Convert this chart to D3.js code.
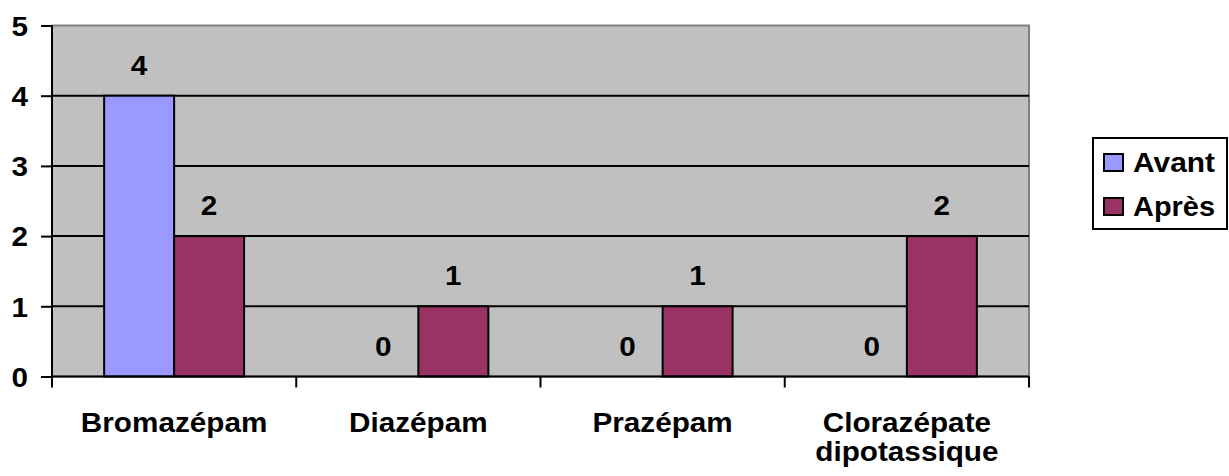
<!DOCTYPE html>
<html lang="fr">
<head>
<meta charset="UTF-8" />
<title>Avant / Après</title>
<style>
  body { margin: 0; background: #fff; }
  svg text { font-family: "Liberation Sans", Arial, sans-serif; font-weight: bold; fill: #000; }
</style>
<script src="https://d3js.org/d3.v7.min.js"></script>
</head>
<body>
<svg id="chart"></svg>
<script>
  const categories = [["Bromazépam"], ["Diazépam"], ["Prazépam"], ["Clorazépate", "dipotassique"]];
  const series = ["Avant", "Après"];
  const avant = [4, 0, 0, 0];
  const apres = [2, 1, 1, 2];
  const yTicks = [0, 1, 2, 3, 4, 5];
  const colors = ["#9999ff", "#993366"];

  const width = 1229, height = 476;
  const plotLeft = 52, plotRight = 1029, plotTop = 25.5, plotBottom = 376.5;
  const fs = 27;
  const stretch = 1.1; // the original text is a little wider than Arial

  const svg = d3.select("#chart").attr("width", width).attr("height", height);

  const x = d3.scaleBand().domain(d3.range(categories.length)).range([plotLeft, plotRight]);
  const xs = d3.scaleBand().domain(series).range([0, x.bandwidth()]).paddingOuter(0.745);
  const y = d3.scaleLinear().domain([0, 5]).range([plotBottom, plotTop]);

  // plot area
  svg.append("rect")
    .attr("x", plotLeft).attr("y", plotTop)
    .attr("width", plotRight - plotLeft).attr("height", plotBottom - plotTop)
    .attr("fill", "#c0c0c0").attr("stroke", "#808080").attr("stroke-width", 2);

  // gridlines
  svg.append("g").selectAll("line")
    .data(yTicks.filter(d => d > 0 && d < 5))
    .join("line")
    .attr("x1", plotLeft).attr("x2", plotRight)
    .attr("y1", d => y(d)).attr("y2", d => y(d))
    .attr("stroke", "#000").attr("stroke-width", 2);

  const data = [];
  categories.forEach((c, i) => {
    data.push({ i, s: "Avant", v: avant[i] });
    data.push({ i, s: "Après", v: apres[i] });
  });

  svg.append("g").selectAll("rect")
    .data(data.filter(d => d.v > 0))
    .join("rect")
    .attr("x", d => x(d.i) + xs(d.s))
    .attr("y", d => y(d.v))
    .attr("width", xs.bandwidth())
    .attr("height", d => y(0) - y(d.v))
    .attr("fill", d => colors[series.indexOf(d.s)])
    .attr("stroke", "#000").attr("stroke-width", 2);

  svg.append("g").selectAll("text")
    .data(data)
    .join("text")
    .attr("x", d => x(d.i) + xs(d.s) + xs.bandwidth() / 2)
    .attr("y", d => y(d.v) - 21)
    .attr("text-anchor", "middle")
    .attr("font-size", fs)
    .text(d => d.v);

  // y axis
  const yAxis = svg.append("g").attr("transform", `translate(${plotLeft},0)`)
    .call(d3.axisLeft(y).tickValues(yTicks).tickSize(11).tickFormat(d3.format("d")));
  yAxis.attr("font-family", null);
  yAxis.select(".domain").attr("stroke", "#000").attr("stroke-width", 2).attr("d", `M0,${plotTop}V${plotBottom}`);
  yAxis.selectAll(".tick line").attr("stroke", "#000").attr("stroke-width", 2);
  yAxis.selectAll(".tick text")
    .attr("font-size", fs)
    .attr("dy", "0.36em").attr("x", -24);

  // x axis
  const xAxis = svg.append("g").attr("transform", `translate(0,${plotBottom})`);
  xAxis.append("line").attr("x1", plotLeft).attr("x2", plotRight).attr("stroke", "#000").attr("stroke-width", 2);
  xAxis.selectAll(".xt")
    .data(d3.range(categories.length + 1))
    .join("line")
    .attr("x1", d => plotLeft + d * x.bandwidth()).attr("x2", d => plotLeft + d * x.bandwidth())
    .attr("y1", 0).attr("y2", 11)
    .attr("stroke", "#000").attr("stroke-width", 2);

  // one text element per line so each can be stretched on its own
  categories.forEach((lines, i) => {
    lines.forEach((line, j) => {
      xAxis.append("text")
        .attr("text-anchor", "middle")
        .attr("font-size", fs)
        .attr("x", x(i) + x.bandwidth() / 2)
        .attr("y", 55 + j * 29)
        .text(line);
    });
  });

  // widen every label slightly
  svg.selectAll("text").each(function () {
    const w = this.getComputedTextLength();
    d3.select(this).attr("textLength", w * stretch).attr("lengthAdjust", "spacingAndGlyphs");
  });

  // legend
  const lg = svg.append("g");
  lg.append("rect").attr("x", 1093).attr("y", 138).attr("width", 134).attr("height", 91)
    .attr("fill", "#fff").attr("stroke", "#000").attr("stroke-width", 2);
  series.forEach((s, i) => {
    const base = 172 + i * 44;
    lg.append("rect").attr("x", 1104).attr("y", base - 18).attr("width", 19).attr("height", 17)
      .attr("fill", colors[i]).attr("stroke", "#000").attr("stroke-width", 2);
    lg.append("text").attr("x", 1133).attr("y", base).attr("font-size", fs)
      .attr("textLength", 82).attr("lengthAdjust", "spacingAndGlyphs").text(s);
  });
</script>
</body>
</html>
